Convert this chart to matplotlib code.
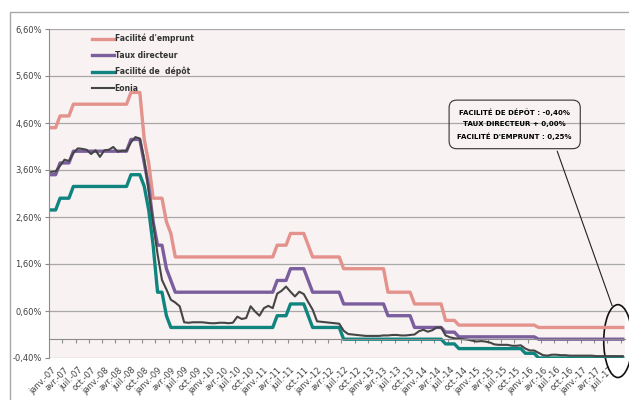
import matplotlib
matplotlib.use('Agg')
import matplotlib.pyplot as plt
from matplotlib.patches import Ellipse, Rectangle
import numpy as np

# monthly values, janv. 2007 -> oct. 2017 (one row per year)
facilite_emprunt = [
    4.50, 4.50, 4.75, 4.75, 4.75, 5.00, 5.00, 5.00, 5.00, 5.00, 5.00, 5.00,
    5.00, 5.00, 5.00, 5.00, 5.00, 5.00, 5.25, 5.25, 5.25, 4.25, 3.75, 3.00,
    3.00, 3.00, 2.50, 2.25, 1.75, 1.75, 1.75, 1.75, 1.75, 1.75, 1.75, 1.75,
    1.75, 1.75, 1.75, 1.75, 1.75, 1.75, 1.75, 1.75, 1.75, 1.75, 1.75, 1.75,
    1.75, 1.75, 1.75, 2.00, 2.00, 2.00, 2.25, 2.25, 2.25, 2.25, 2.00, 1.75,
    1.75, 1.75, 1.75, 1.75, 1.75, 1.75, 1.50, 1.50, 1.50, 1.50, 1.50, 1.50,
    1.50, 1.50, 1.50, 1.50, 1.00, 1.00, 1.00, 1.00, 1.00, 1.00, 0.75, 0.75,
    0.75, 0.75, 0.75, 0.75, 0.75, 0.40, 0.40, 0.40, 0.30, 0.30, 0.30, 0.30,
    0.30, 0.30, 0.30, 0.30, 0.30, 0.30, 0.30, 0.30, 0.30, 0.30, 0.30, 0.30,
    0.30, 0.30, 0.25, 0.25, 0.25, 0.25, 0.25, 0.25, 0.25, 0.25, 0.25, 0.25,
    0.25, 0.25, 0.25, 0.25, 0.25, 0.25, 0.25, 0.25, 0.25, 0.25,
]
taux_directeur = [
    3.50, 3.50, 3.75, 3.75, 3.75, 4.00, 4.00, 4.00, 4.00, 4.00, 4.00, 4.00,
    4.00, 4.00, 4.00, 4.00, 4.00, 4.00, 4.25, 4.25, 4.25, 3.75, 3.25, 2.50,
    2.00, 2.00, 1.50, 1.25, 1.00, 1.00, 1.00, 1.00, 1.00, 1.00, 1.00, 1.00,
    1.00, 1.00, 1.00, 1.00, 1.00, 1.00, 1.00, 1.00, 1.00, 1.00, 1.00, 1.00,
    1.00, 1.00, 1.00, 1.25, 1.25, 1.25, 1.50, 1.50, 1.50, 1.50, 1.25, 1.00,
    1.00, 1.00, 1.00, 1.00, 1.00, 1.00, 0.75, 0.75, 0.75, 0.75, 0.75, 0.75,
    0.75, 0.75, 0.75, 0.75, 0.50, 0.50, 0.50, 0.50, 0.50, 0.50, 0.25, 0.25,
    0.25, 0.25, 0.25, 0.25, 0.25, 0.15, 0.15, 0.15, 0.05, 0.05, 0.05, 0.05,
    0.05, 0.05, 0.05, 0.05, 0.05, 0.05, 0.05, 0.05, 0.05, 0.05, 0.05, 0.05,
    0.05, 0.05, 0.00, 0.00, 0.00, 0.00, 0.00, 0.00, 0.00, 0.00, 0.00, 0.00,
    0.00, 0.00, 0.00, 0.00, 0.00, 0.00, 0.00, 0.00, 0.00, 0.00,
]
facilite_depot = [
    2.75, 2.75, 3.00, 3.00, 3.00, 3.25, 3.25, 3.25, 3.25, 3.25, 3.25, 3.25,
    3.25, 3.25, 3.25, 3.25, 3.25, 3.25, 3.50, 3.50, 3.50, 3.25, 2.75, 2.00,
    1.00, 1.00, 0.50, 0.25, 0.25, 0.25, 0.25, 0.25, 0.25, 0.25, 0.25, 0.25,
    0.25, 0.25, 0.25, 0.25, 0.25, 0.25, 0.25, 0.25, 0.25, 0.25, 0.25, 0.25,
    0.25, 0.25, 0.25, 0.50, 0.50, 0.50, 0.75, 0.75, 0.75, 0.75, 0.50, 0.25,
    0.25, 0.25, 0.25, 0.25, 0.25, 0.25, 0.00, 0.00, 0.00, 0.00, 0.00, 0.00,
    0.00, 0.00, 0.00, 0.00, 0.00, 0.00, 0.00, 0.00, 0.00, 0.00, 0.00, 0.00,
    0.00, 0.00, 0.00, 0.00, 0.00, -0.10, -0.10, -0.10, -0.20, -0.20, -0.20, -0.20,
    -0.20, -0.20, -0.20, -0.20, -0.20, -0.20, -0.20, -0.20, -0.20, -0.20, -0.20, -0.30,
    -0.30, -0.30, -0.40, -0.40, -0.40, -0.40, -0.40, -0.40, -0.40, -0.40, -0.40, -0.40,
    -0.40, -0.40, -0.40, -0.40, -0.40, -0.40, -0.40, -0.40, -0.40, -0.40,
]
eonia = [
    3.56, 3.57, 3.69, 3.82, 3.79, 3.96, 4.06, 4.05, 4.03, 3.94, 4.02, 3.88,
    4.02, 4.03, 4.09, 3.99, 4.01, 4.01, 4.19, 4.30, 4.27, 3.82, 3.15, 2.49,
    1.81, 1.26, 1.06, 0.84, 0.78, 0.70, 0.36, 0.35, 0.36, 0.36, 0.36, 0.35,
    0.34, 0.34, 0.35, 0.35, 0.34, 0.35, 0.48, 0.43, 0.45, 0.70, 0.59, 0.50,
    0.66, 0.71, 0.66, 0.97, 1.03, 1.12, 1.01, 0.91, 1.01, 0.96, 0.79, 0.63,
    0.38, 0.37, 0.36, 0.35, 0.34, 0.33, 0.18, 0.11, 0.10, 0.09, 0.08, 0.07,
    0.07, 0.07, 0.07, 0.08, 0.08, 0.09, 0.09, 0.08, 0.08, 0.09, 0.10, 0.17,
    0.20, 0.16, 0.19, 0.25, 0.25, 0.08, 0.04, 0.02, 0.01, 0.00, -0.01, -0.03,
    -0.05, -0.04, -0.05, -0.07, -0.11, -0.12, -0.12, -0.12, -0.14, -0.14, -0.13, -0.20,
    -0.24, -0.24, -0.29, -0.34, -0.35, -0.33, -0.33, -0.34, -0.34, -0.35, -0.35, -0.35,
    -0.35, -0.35, -0.35, -0.36, -0.36, -0.36, -0.36, -0.36, -0.36, -0.36,
]

mois = ['janv.', 'avr.', 'juil.', 'oct.']
annees = list(range(7, 18))
x_labels = [f'{m}-{a:02d}' for a in annees for m in mois][:43]
y_ticks = [-0.40, 0.60, 1.60, 2.60, 3.60, 4.60, 5.60, 6.60]

note = ['FACILITÉ DE DÉPÔT : -0,40%',
        'TAUX DIRECTEUR + 0,00%',
        "FACILITÉ D'EMPRUNT : 0,25%"]

x = np.arange(len(eonia))

fig = plt.figure(figsize=(6.29, 4.00), dpi=100)
ax = fig.add_axes([49 / 629, 1 - 358 / 400, 576 / 629, 329 / 400])
ax.set_facecolor('#F9F2F2')

# outer chart frame
fig.add_artist(Rectangle((10 / 629, -0.05), 1.0, 1 - 12 / 400 + 0.05,
                         transform=fig.transFigure, fill=False,
                         ec='#A8A8A8', lw=1.0))

ax.plot(x, facilite_emprunt, c='#E3928C', lw=2.4, label="Facilité d'emprunt")
ax.plot(x, taux_directeur, c='#7B5E9E', lw=2.4, label='Taux directeur')
ax.plot(x, facilite_depot, c='#10857F', lw=2.4, label='Facilité de  dépôt')
ax.plot(x, eonia, c='#454545', lw=1.5, label='Eonia')

ax.set_xlim(-0.5, len(x) - 0.5)
ax.set_ylim(-0.40, 6.60)

ax.set_yticks(y_ticks)
ax.set_yticklabels([f'{v:.2f}%'.replace('.', ',') for v in y_ticks])
ax.tick_params(axis='y', length=3, color='#888888', labelsize=6,
               labelcolor='#404040', pad=2)
ax.yaxis.grid(True, color='#A8A8A8', lw=0.9)
ax.set_axisbelow(True)

# x axis crosses at 0, labels kept low
ax.spines['bottom'].set_position(('data', 0))
ax.spines['bottom'].set_color('#8C8C8C')
ax.spines['left'].set_color('#8C8C8C')
ax.spines['top'].set_visible(False)
ax.spines['right'].set_visible(False)

ax.set_xticks(np.arange(2.5, len(x), 3))
ax.set_xticklabels([])
ax.tick_params(axis='x', which='major', length=3, color='#8C8C8C',
               direction='out')
ax.set_xticks(np.arange(0, 3 * len(x_labels), 3), minor=True)
ax.set_xticklabels(x_labels, minor=True, rotation=45, ha='right',
                   rotation_mode='anchor', fontsize=6, color='#404040')
ax.tick_params(axis='x', which='minor', length=0, pad=19)

leg = ax.legend(loc='upper left', bbox_to_anchor=(0.062, 1.006),
                frameon=False, handlelength=2.9, handletextpad=0.1,
                labelspacing=0.95, prop={'size': 5.5, 'weight': 'bold'})
for t in leg.get_texts():
    t.set_color('#333333')

# annotation box and circled end of the series
ax.text(104.6, 4.57, '\n'.join(note), ha='center', va='center',
        fontsize=5.0, fontweight='bold',
        family=['Liberation Sans Narrow', 'DejaVu Sans'], linespacing=1.95,
        bbox=dict(boxstyle='round,pad=1.2,rounding_size=1.1',
                  fc='none', ec='#333333', lw=0.8))
ax.annotate('', xy=(126.6, 0.71), xytext=(114.2, 4.0),
            arrowprops=dict(arrowstyle='-', color='#222222', lw=0.8,
                            shrinkA=0, shrinkB=0))
ax.add_patch(Ellipse((127.9, -0.04), 6.4, 1.55, fill=False, ec='#111111',
                     lw=1.2, clip_on=False))

fig.savefig('out.png', dpi=100)
